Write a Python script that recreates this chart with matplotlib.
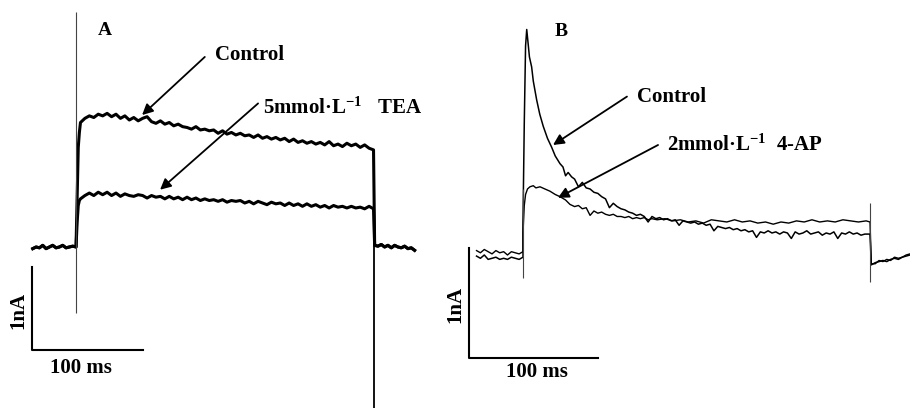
import matplotlib
matplotlib.use('Agg')
import matplotlib.pyplot as plt
import numpy as np

plt.rcParams['font.family'] = ['Liberation Serif', 'DejaVu Serif']
plt.rcParams['font.weight'] = 'bold'
plt.rcParams['mathtext.fontset'] = 'custom'
plt.rcParams['mathtext.rm'] = 'Liberation Serif:bold'
plt.rcParams['mathtext.bf'] = 'Liberation Serif:bold'
plt.rcParams['mathtext.default'] = 'rm'

# ---- panel A : time in ms (0 = step onset), current in nA ----
a_pre_t = np.arange(-39, 1, 3)
a_pre = [-0.02, 0.0, -0.01, 0.02, -0.02, 0.0, 0.02, -0.01, 0.0, 0.02, -0.01, 0.0, 0.01, 0.0]
a_post_t = np.arange(269, 306, 3)
a_post = [0.02, 0.01, 0.03, 0.0, 0.02, -0.01, 0.02, 0.0, -0.01, 0.01, -0.02, -0.01, -0.04]

a_pulse_t = np.concatenate([[0, 1, 2, 3], np.arange(4, 269, 4)])
a_control = [0, 0.6, 1.2, 1.38,
             1.50, 1.55, 1.58, 1.56, 1.60, 1.58, 1.61, 1.57, 1.60, 1.55,
             1.58, 1.53, 1.56, 1.52, 1.55, 1.57, 1.51, 1.49, 1.52, 1.48,
             1.50, 1.46, 1.48, 1.45, 1.44, 1.42, 1.45, 1.41, 1.42, 1.40,
             1.41, 1.37, 1.40, 1.36, 1.38, 1.35, 1.37, 1.34, 1.35, 1.32,
             1.35, 1.31, 1.33, 1.30, 1.32, 1.29, 1.31, 1.27, 1.30, 1.26,
             1.28, 1.25, 1.27, 1.24, 1.26, 1.23, 1.27, 1.22, 1.24, 1.21,
             1.25, 1.22, 1.24, 1.20, 1.23, 1.19, 1.17]
a_tea = [0, 0.3, 0.5, 0.56,
         0.58, 0.62, 0.65, 0.62, 0.66, 0.63, 0.66, 0.62, 0.65, 0.61,
         0.64, 0.62, 0.61, 0.63, 0.62, 0.59, 0.62, 0.60, 0.61, 0.58,
         0.61, 0.58, 0.60, 0.57, 0.60, 0.57, 0.59, 0.56, 0.58, 0.56,
         0.57, 0.55, 0.57, 0.54, 0.56, 0.55, 0.56, 0.53, 0.55, 0.52,
         0.55, 0.53, 0.51, 0.54, 0.52, 0.53, 0.50, 0.53, 0.50, 0.52,
         0.49, 0.52, 0.49, 0.51, 0.48, 0.50, 0.47, 0.50, 0.48, 0.49,
         0.47, 0.49, 0.47, 0.48, 0.46, 0.49, 0.46]
a_cap_t = [0, 268.5]
a_cap_hi = [2.83, 1.17]
a_cap_lo = [-0.80, -2.2]

# ---- panel B ----
b_pre_t = np.arange(-36, 1, 3)
b_pre_ap = [0.04, 0.02, 0.05, 0.03, 0.01, 0.04, 0.02, 0.03, 0.0, 0.03, 0.02, 0.01, 0.03]
b_pre_ctrl = [-0.01, -0.03, 0.0, -0.04, -0.03, -0.02, -0.04, -0.03, -0.04, -0.02, -0.03, -0.04, -0.02]

b_ctrl_pts = [(0, 0.3), (1, 1.2), (2, 1.9), (2.9, 2.05), (4, 1.92), (5, 1.80), (6.7, 1.71),
              (8, 1.58), (10.6, 1.41), (13, 1.28), (15.7, 1.17), (19, 1.06), (22.2, 0.98),
              (25, 0.90), (28.7, 0.83), (31, 0.80), (33, 0.72), (35, 0.75), (37.7, 0.71),
              (40, 0.69), (43, 0.62), (46, 0.66), (49, 0.61), (52, 0.60), (55, 0.57),
              (58, 0.56), (61, 0.53), (64, 0.51), (67, 0.43), (70, 0.47), (73, 0.44),
              (76, 0.42), (79, 0.41), (82, 0.39), (85, 0.38), (88, 0.36), (91, 0.37),
              (94, 0.35), (97, 0.30), (100, 0.35), (103, 0.33), (106, 0.34), (109, 0.32),
              (112, 0.33), (115, 0.31), (118, 0.32), (121, 0.27), (124, 0.31), (127, 0.30),
              (130, 0.29), (133, 0.30), (136, 0.28), (139, 0.29), (142, 0.27), (145, 0.28),
              (148, 0.22), (151, 0.26), (154, 0.25), (157, 0.24), (160, 0.25), (163, 0.23),
              (166, 0.24), (169, 0.22), (172, 0.23), (175, 0.21), (178, 0.22), (181, 0.16),
              (184, 0.21), (187, 0.20), (190, 0.22), (193, 0.20), (196, 0.21), (199, 0.19),
              (202, 0.21), (205, 0.20), (208, 0.15), (211, 0.21), (214, 0.19), (217, 0.20),
              (220, 0.22), (223, 0.19), (226, 0.20), (229, 0.21), (232, 0.18), (235, 0.20),
              (238, 0.19), (241, 0.21), (244, 0.15), (247, 0.20), (250, 0.19), (253, 0.21),
              (256, 0.19), (259, 0.20), (262, 0.18), (265, 0.19), (269, 0.19)]
b_ap_pts = [(0, 0.2), (1, 0.45), (2, 0.55), (3.5, 0.6), (5.4, 0.62), (8, 0.63), (10, 0.61),
            (13.2, 0.62), (17, 0.60), (20.9, 0.58), (25, 0.55), (28.7, 0.53), (33, 0.50),
            (36.4, 0.46), (40, 0.44), (43, 0.45), (46, 0.42), (49, 0.43), (52, 0.36),
            (55, 0.40), (58, 0.38), (61, 0.39), (64, 0.37), (67, 0.36), (70, 0.37),
            (73, 0.35), (76, 0.35), (79, 0.34), (82, 0.35), (85, 0.33), (88, 0.34),
            (91, 0.33), (94, 0.34), (97, 0.32), (100, 0.33), (104, 0.32), (110, 0.33),
            (116, 0.31), (122, 0.32), (128, 0.30), (134, 0.31), (140, 0.29), (146, 0.32),
            (152, 0.31), (158, 0.30), (164, 0.32), (170, 0.30), (176, 0.31), (182, 0.29),
            (188, 0.30), (194, 0.28), (200, 0.30), (206, 0.29), (212, 0.31), (218, 0.30),
            (224, 0.32), (230, 0.30), (236, 0.31), (242, 0.30), (248, 0.32), (254, 0.31),
            (260, 0.30), (266, 0.31), (269, 0.30)]
b_post_t = np.arange(270, 301, 3)
b_post_ctrl = [-0.09, -0.07, -0.06, -0.05, -0.06, -0.04, -0.03, -0.04, -0.02, -0.01, 0.0]
b_post_ap = [-0.08, -0.08, -0.05, -0.06, -0.04, -0.05, -0.02, -0.03, -0.02, 0.0, 0.01]
b_cap_t = [0, 269]
b_cap_hi = [0.6, 0.47]
b_cap_lo = [-0.21, -0.245]

fig = plt.figure(figsize=(9.1, 4.08), dpi=100)
axA = fig.add_axes([0, 0, 0.5, 1])
axB = fig.add_axes([0.5, 0, 0.5, 1])
axA.set_xlim(-68.5, 341.4)
axA.set_ylim(-1.94, 2.976)
axB.set_xlim(-52.7, 300)
axB.set_ylim(-1.391, 2.318)
for ax in (axA, axB):
    ax.axis('off')

fs = 15
arrow = dict(arrowstyle='-|>', color='black', lw=1.3, mutation_scale=16, shrinkA=0, shrinkB=0)

# panel A traces
for pulse in (a_control, a_tea):
    t = np.concatenate([a_pre_t, a_pulse_t, a_post_t])
    y = np.concatenate([a_pre, pulse, a_post])
    axA.plot(t, y, color='black', lw=2.2)
axA.vlines(a_cap_t[0], a_cap_lo[0], a_cap_hi[0], color='#444444', lw=0.8)
axA.vlines(a_cap_t[1], a_cap_lo[1], a_cap_hi[1], color='black', lw=1.3)
# scale bar: 100 ms x 1 nA
axA.plot([-40, -40, 60], [-0.24, -1.24, -1.24], color='black', lw=1.5)
axA.text(-52, -0.76, '1nA', rotation=90, ha='center', va='center', fontsize=fs)
axA.text(4.5, -1.46, '100 ms', ha='center', va='center', fontsize=fs)
axA.text(26, 2.61, 'A', ha='center', va='center', fontsize=14)
axA.text(125, 2.31, 'Control', ha='left', va='center', fontsize=fs)
axA.annotate('', xy=(59.5, 1.59), xytext=(116, 2.29), arrowprops=arrow)
axA.text(168.5, 1.67, '5mmol·L$^{-1}$   TEA', ha='left', va='center', fontsize=fs)
axA.annotate('', xy=(75.7, 0.69), xytext=(164, 1.73), arrowprops=arrow)

# panel B traces
for pre, pts, post, w in ((b_pre_ctrl, b_ctrl_pts, b_post_ctrl, 1.1),
                          (b_pre_ap, b_ap_pts, b_post_ap, 1.0)):
    pt, pv = zip(*pts)
    t = np.concatenate([b_pre_t, pt, b_post_t])
    y = np.concatenate([pre, pv, post])
    axB.plot(t, y, color='black', lw=w)
axB.vlines(b_cap_t, b_cap_lo, b_cap_hi, color='#444444', lw=0.8)
axB.plot([-41.9, -41.9, 58.1], [0.064, -0.936, -0.936], color='black', lw=1.5)
axB.text(-52.7, -0.45, '1nA', rotation=90, ha='center', va='center', fontsize=fs)
axB.text(10.9, -1.06, '100 ms', ha='center', va='center', fontsize=fs)
axB.text(29.5, 2.03, 'B', ha='center', va='center', fontsize=14)
axB.text(88.4, 1.44, 'Control', ha='left', va='center', fontsize=fs)
axB.annotate('', xy=(23.3, 1.0), xytext=(80.6, 1.44), arrowprops=arrow)
axB.text(111.6, 1.0, '2mmol·L$^{-1}$  4-AP', ha='left', va='center', fontsize=fs)
axB.annotate('', xy=(27.1, 0.52), xytext=(104.7, 1.0), arrowprops=arrow)

fig.savefig('out.png', dpi=100)
